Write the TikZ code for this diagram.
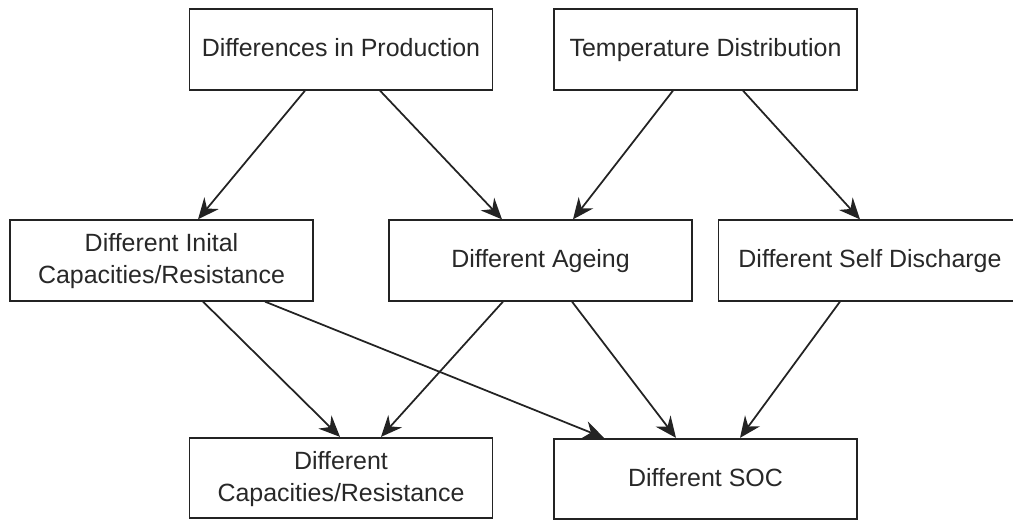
\documentclass[tikz,border=0pt]{standalone}
\usepackage{fontspec}
\setmainfont{Liberation Sans}
\usepackage{tikz}
\usetikzlibrary{arrows.meta, calc}
\definecolor{LineDark}{RGB}{35,35,35}
\definecolor{TextDark}{RGB}{40,40,40}
\tikzset{
  cause/.style={
    rectangle, draw=LineDark, fill=white, line width=1pt,
    minimum width=6.06cm, minimum height=1.61cm,
    align=center, text=TextDark, text depth=0.21em,
    font=\fontsize{14.2}{18.2}\selectfont
  },
  arr/.style={-{Stealth[length=12pt, width=10.5pt, inset=4pt]}, draw=LineDark, line width=1pt}
}

\begin{document}
\begin{tikzpicture}
  \useasboundingbox (0,0) rectangle (20.26,-10.42);

  \node[cause] (prod) at (6.82, -0.99) {Differences in Production};
  \node[cause] (temp) at (14.11, -0.99) {Temperature Distribution};

  \node[cause] (inital) at (3.23, -5.21) {Different Inital\\Capacities/Resistance};
  \node[cause] (ageing) at (10.81, -5.21) {Different Ageing};
  \node[cause] (selfdis) at (17.40, -5.21) {Different Self Discharge};

  \node[cause] (caps) at (6.82, -9.56) {Different\\Capacities/Resistance};
  \node[cause] (soc) at (14.11, -9.58) {Different SOC};

  \draw[arr] ($(prod.south)+(-0.72,0)$) -- ($(inital.north)+(0.73,0)$);
  \draw[arr] ($(prod.south)+(0.78,0)$) -- ($(ageing.north)+(-0.77,0)$);
  \draw[arr] ($(temp.south)+(-0.65,0)$) -- ($(ageing.north)+(0.65,0)$);
  \draw[arr] ($(temp.south)+(0.75,0)$) -- ($(selfdis.north)+(-0.2,0)$);

  \draw[arr] ($(inital.south)+(0.83,0)$) -- ($(caps.north)+(-0.02,0)$);
  \draw[arr] ($(ageing.south)+(-0.75,0)$) -- ($(caps.north)+(0.80,0)$);
  \draw[arr] ($(inital.south)+(2.07,0)$) -- ($(soc.north)+(-2.03,0)$);
  \draw[arr] ($(ageing.south)+(0.63,0)$) -- ($(soc.north)+(-0.59,0)$);
  \draw[arr] ($(selfdis.south)+(-0.6,0)$) -- ($(soc.north)+(0.69,0)$);
\end{tikzpicture}
\end{document}
